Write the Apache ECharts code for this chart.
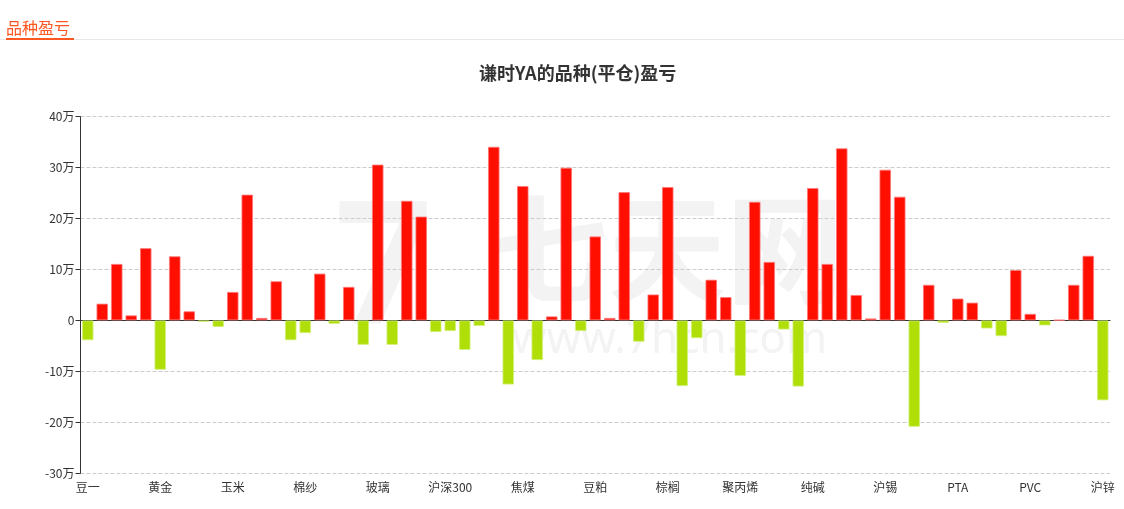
<!DOCTYPE html>
<html><head><meta charset="utf-8">
<script src="https://cdn.jsdelivr.net/npm/echarts@6/dist/echarts.min.js"></script>
<style>html,body{margin:0;padding:0;background:#fff;}#c{width:1124px;height:509px;}</style>
</head><body><div id="c"></div>
<script>
var categories = ['豆一','豆二','豆油','白银','沪铜','黄金','沪铝','沪镍','沪铅','淀粉',
'玉米','鸡蛋','生猪','苹果','棉花','棉纱','白糖','红枣','菜粕','菜油',
'玻璃','纸浆','螺纹钢','热卷','铁矿石','沪深300','上证50','中证500','焦炭','动力煤',
'焦煤','硅铁','锰硅','不锈钢','花生','豆粕','菜籽','粳米','早籼稻','强麦',
'棕榈','原油','燃油','沥青','塑料','聚丙烯','乙二醇','苯乙烯','甲醇','尿素',
'纯碱','橡胶','20号胶','LPG','短纤','沪锡','国际铜','低硫燃油','线材','胶合板',
'PTA','纤维板','晚籼稻','普麦','粳稻','PVC','工业硅','碳酸锂','对二甲苯','烧碱','沪锌'];
// profit in 万元
var profitWan = [-3.9,3.3,11.1,1.0,14.2,-9.7,12.6,1.8,-0.3,-1.3,
5.6,24.7,0.5,7.7,-3.9,-2.5,9.2,-0.7,6.6,-4.8,
30.6,-4.8,23.5,20.4,-2.3,-2.1,-5.8,-1.1,34.1,-12.6,
26.4,-7.8,0.8,30.0,-2.1,16.5,0.5,25.2,-4.2,5.1,
26.2,-12.9,-3.5,8.0,4.6,-10.9,23.3,11.5,-1.8,-13.0,
26.0,11.1,33.8,5.0,0.4,29.6,24.3,-20.9,7.0,-0.5,
4.3,3.5,-1.6,-3.1,9.9,1.3,-1.0,0.1,7.0,12.7,-15.7];
var yTicks = {min:-300000, max:400000, interval:100000};

var chart = echarts.init(document.getElementById('c'));
var data = profitWan.map(function(v){
  var y = Math.round(v*10000);
  return {value:y, itemStyle:{color: y>=0?'#FF0F00':'#B0DE09', borderColor: y>=0?'rgba(255,120,120,0.8)':'rgba(210,240,120,0.8)', borderWidth:1}};
});
chart.setOption({
  animation:false,
  title:{text:'谦时YA的品种(平仓)盈亏', left:474, top:59, textStyle:{fontSize:18, fontWeight:'bold', color:'#333', fontFamily:'Noto Sans CJK SC'}},
  graphic:[
    {type:'text', left:6, top:20, z:10, style:{text:'品种盈亏', fill:'#ff5722', font:'16px "Noto Sans CJK SC"'}},
    {type:'rect', left:0, top:39, z:9, shape:{width:1124, height:1}, style:{fill:'#e8e8e8'}},
    {type:'rect', left:6, top:38, z:10, shape:{width:68, height:2}, style:{fill:'#ff5722'}},
    {type:'text', left:490, top:190, z:-10, style:{text:'七天网', fill:'#f3f3f3', font:'bold 118px "Noto Sans CJK SC"'}},
    {type:'text', left:512, top:318, z:-10, style:{text:'www.7hcn.com', fill:'#f3f3f3', font:'44px "Noto Sans"'}},
    {type:'text', left:335, top:190, z:-10, style:{text:'7', fill:'#f3f3f3', font:'bold 170px "Noto Sans"'}}
  ],
  grid:{left:80.5, right:14, top:116.7, bottom:35.8},
  xAxis:[{
    type:'category', data:categories, position:'bottom',
    axisLine:{onZero:true, lineStyle:{color:'#333'}},
    axisTick:{alignWithLabel:true, interval:4, length:5, lineStyle:{color:'#333'}},
    axisLabel:{show:false}, splitLine:{show:false}
  },{
    type:'category', data:categories, position:'bottom',
    axisLine:{show:false, onZero:false}, axisTick:{show:false},
    axisLabel:{interval:4, color:'#333', fontSize:12, margin:8, fontFamily:'Noto Sans CJK SC'}
  }],
  yAxis:{
    type:'value', min:yTicks.min, max:yTicks.max, interval:yTicks.interval,
    axisLine:{show:true, lineStyle:{color:'#333'}},
    axisTick:{show:true, length:5, lineStyle:{color:'#333'}},
    axisLabel:{color:'#333', fontSize:12, margin:6, fontFamily:'Noto Sans CJK SC', formatter:function(v){return v===0?'0':(v/10000)+'万';}},
    splitLine:{lineStyle:{type:'dashed', color:'#ccc'}}
  },
  series:[{type:'bar', xAxisIndex:0, data:data, barWidth:'80%'}]
});
</script></body></html>
